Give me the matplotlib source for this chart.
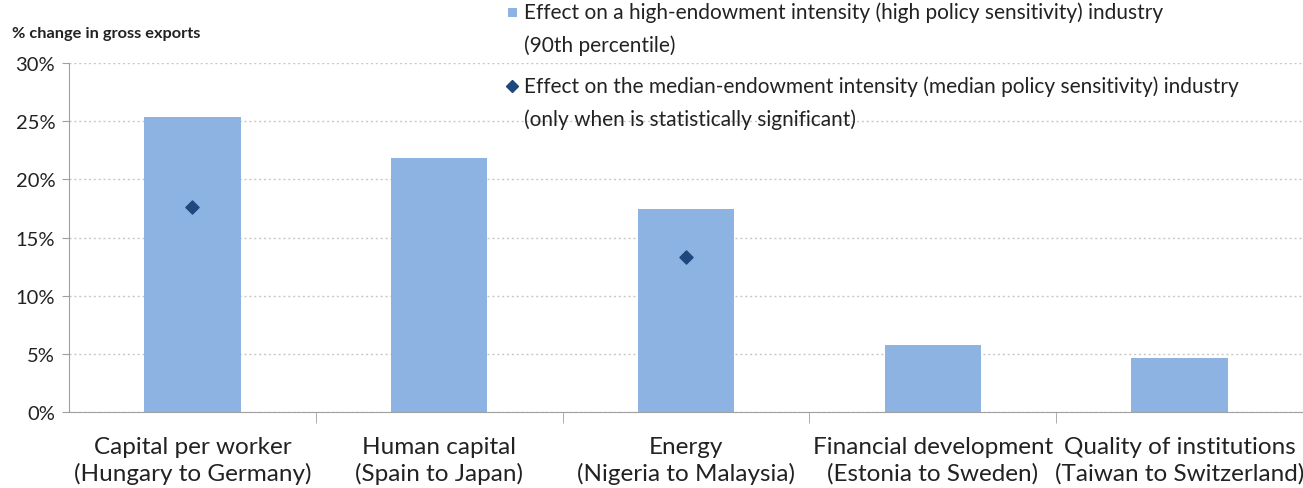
import numpy as np
import matplotlib
matplotlib.use('Agg')
import matplotlib.pyplot as plt
from matplotlib.lines import Line2D
from matplotlib.patches import Rectangle
from matplotlib.ticker import MultipleLocator, FuncFormatter

plt.rcParams['font.family'] = ['Lato', 'DejaVu Sans']

categories = ['Capital per worker\n(Hungary to Germany)',
              'Human capital\n(Spain to Japan)',
              'Energy\n(Nigeria to Malaysia)',
              'Financial development\n(Estonia to Sweden)',
              'Quality of institutions\n(Taiwan to Switzerland)']
high_effect = [25.4, 21.8, 17.5, 5.8, 4.7]
median_effect = [17.6, None, 13.3, None, None]
legend_labels = ['Effect on a high-endowment intensity (high policy sensitivity) industry\n(90th percentile)',
                 'Effect on the median-endowment intensity (median policy sensitivity) industry\n(only when is statistically significant)']

bar_color = '#8DB3E2'
dot_color = '#1F497D'

W, H = 1303, 489
fig = plt.figure(figsize=(W / 100, H / 100), dpi=100)
ax = fig.add_axes([0.053, 0.155, 0.947, 0.714])

x = np.arange(len(categories))
ax.bar(x, high_effect, width=0.39, color=bar_color, zorder=2)
mx = [i for i, v in enumerate(median_effect) if v is not None]
my = [v for v in median_effect if v is not None]
ax.scatter(mx, my, marker='D', s=45, color=dot_color, zorder=3)

ax.set_xlim(-0.5, len(categories) - 0.5)
ax.set_ylim(0, 30)
ax.yaxis.set_major_locator(MultipleLocator(5))
ax.yaxis.set_major_formatter(FuncFormatter(lambda v, p: f'{v:.0f}%'))
ax.grid(axis='y', linestyle=(0, (1.5, 2)), color='#c8c8c8', linewidth=1, zorder=0)

ax.set_xticks(x)
ax.set_xticklabels(categories, fontsize=17.5, color='#222222', linespacing=1.3)
ax.tick_params(axis='x', length=0, pad=17)
ax.set_xticks(np.arange(len(categories) - 1) + 0.5, minor=True)
ax.tick_params(axis='x', which='minor', length=8, color='#a0a0a0')
ax.tick_params(axis='y', length=5, color='#a0a0a0', labelsize=14.5, labelcolor='#222222', pad=5)

for s in ['top', 'right']:
    ax.spines[s].set_visible(False)
for s in ['left', 'bottom']:
    ax.spines[s].set_color('#a0a0a0')

fig.text(0.009, 0.922, '% change in gross exports', fontsize=11.8, fontweight='bold', color='#222222')

# legend drawn by hand so the keys sit beside the first line of each label
key_x = 512 / W
text_x = 524 / W
first_line = [13, 87]
sq = 9
fig.add_artist(Rectangle((key_x - sq / 2 / W, 1 - (first_line[0] + sq / 2) / H), sq / W, sq / H,
                         transform=fig.transFigure, facecolor=bar_color, edgecolor='none'))
fig.add_artist(Line2D([key_x], [1 - first_line[1] / H], transform=fig.transFigure,
                      marker='D', markersize=6, color=dot_color, linestyle='none'))
for label, yl in zip(legend_labels, first_line):
    fig.text(text_x, 1 - (yl - 11) / H, label, va='top', ha='left', fontsize=15,
             color='#222222', linespacing=1.75)

fig.savefig('out.png', dpi=100)
